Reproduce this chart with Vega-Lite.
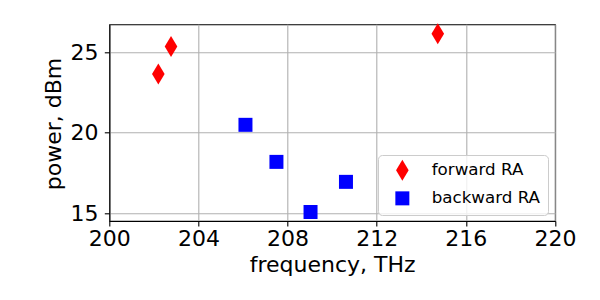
{
  "$schema": "https://vega.github.io/schema/vega-lite/v6.json",
  "width": 445.7,
  "height": 196.7,
  "autosize": "none",
  "padding": {"left": 109.3, "top": 24.3, "right": 45, "bottom": 79},
  "background": "white",
  "config": {
    "view": {"stroke": "black", "strokeWidth": 1.1},
    "font": "DejaVu Sans",
    "axis": {
      "domainColor": "black",
      "domainWidth": 1.1,
      "tickColor": "black",
      "tickWidth": 1.1,
      "tickSize": 5,
      "labelFont": "DejaVu Sans",
      "labelFontSize": 22,
      "labelColor": "black",
      "titleFont": "DejaVu Sans",
      "titleFontSize": 22,
      "titleFontWeight": "normal",
      "titleColor": "black",
      "gridColor": "#b0b0b0",
      "gridWidth": 1.1
    },
    "legend": {
      "labelFont": "DejaVu Sans",
      "labelFontSize": 16.7,
      "labelColor": "black"
    }
  },
  "data": {
    "values": [
      {"freq": 202.2, "power": 23.64, "series": "forward RA"},
      {"freq": 202.77, "power": 25.35, "series": "forward RA"},
      {"freq": 214.74, "power": 26.15, "series": "forward RA"},
      {"freq": 206.11, "power": 20.49, "series": "backward RA"},
      {"freq": 207.5, "power": 18.19, "series": "backward RA"},
      {"freq": 209.03, "power": 15.08, "series": "backward RA"},
      {"freq": 210.62, "power": 16.95, "series": "backward RA"}
    ]
  },
  "mark": {"type": "point", "filled": true, "opacity": 1, "size": 196},
  "encoding": {
    "x": {
      "field": "freq",
      "type": "quantitative",
      "scale": {"domain": [200, 220], "nice": false, "zero": false},
      "axis": {
        "values": [200, 204, 208, 212, 216, 220],
        "title": "frequency, THz",
        "labelBaseline": "alphabetic",
        "labelPadding": 19.5,
        "labelFlush": false,
        "labelOverlap": false,
        "titleBaseline": "alphabetic",
        "titleY": 50.5
      }
    },
    "y": {
      "field": "power",
      "type": "quantitative",
      "scale": {"domain": [14.52, 26.73], "nice": false, "zero": false},
      "axis": {
        "values": [15, 20, 25],
        "title": "power, dBm",
        "labelPadding": 6.3,
        "labelFlush": false,
        "labelOverlap": false,
        "titleBaseline": "alphabetic",
        "titleAngle": -90,
        "titleX": -48.9,
        "titleY": 99.2,
        "titleAlign": "center"
      }
    },
    "color": {
      "field": "series",
      "type": "nominal",
      "scale": {"domain": ["forward RA", "backward RA"], "range": ["#ff0000", "#0000ff"]},
      "legend": {
        "title": null,
        "orient": "none",
        "legendX": 268.7,
        "legendY": 130.7,
        "fillColor": "rgba(255,255,255,0.8)",
        "strokeColor": "#cccccc",
        "cornerRadius": 4,
        "padding": 7,
        "symbolSize": 196,
        "symbolOffset": 9,
        "labelOffset": 21,
        "rowPadding": 9,
        "symbolStrokeWidth": 0
      }
    },
    "shape": {
      "field": "series",
      "type": "nominal",
      "scale": {"domain": ["forward RA", "backward RA"], "range": ["M0,-1.5L0.9,0L0,1.5L-0.9,0Z", "square"]},
      "legend": null
    }
  }
}
